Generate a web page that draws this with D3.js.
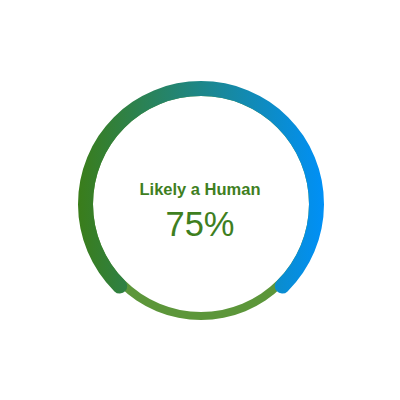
<!DOCTYPE html>
<html><head><meta charset="utf-8">
<script src="https://cdn.jsdelivr.net/npm/d3@7"></script>
<style>html,body{margin:0;padding:0;background:#fff;}svg{display:block;}</style>
</head><body>
<svg id="chart" width="400" height="400"></svg>
<script>
const label = "Likely a Human";
const value = [75];
const maxValue = [100];
const gradientColors = ["#3a7d1a", "#0090f7"];

const svg = d3.select("#chart");
const cx = 201, cy = 204;
const innerR = 108, outerR = 123, trackOuterR = 116;
const capPad = 4 * Math.PI / 180;

const defs = svg.append("defs");
const grad = defs.append("linearGradient").attr("id", "g")
  .attr("gradientUnits", "userSpaceOnUse")
  .attr("x1", -outerR).attr("y1", 0).attr("x2", outerR).attr("y2", 0);
grad.selectAll("stop").data(gradientColors).join("stop")
  .attr("offset", (d, i) => i / (gradientColors.length - 1))
  .attr("stop-color", d => d);

const g = svg.append("g").attr("transform", `translate(${cx},${cy})`);
const start = -0.75 * Math.PI;
const angle = d3.scaleLinear().domain([0, maxValue[0]]).range([start, start + 2 * Math.PI]);

g.append("path")
  .attr("d", d3.arc().innerRadius(innerR).outerRadius(trackOuterR).startAngle(0).endAngle(2 * Math.PI)())
  .attr("fill", "#5c963a");

g.append("path")
  .attr("d", d3.arc().innerRadius(innerR).outerRadius(outerR).cornerRadius(7.5)
    .startAngle(angle(0) - capPad).endAngle(angle(value[0]) + capPad)())
  .attr("fill", "url(#g)");

g.append("text").attr("x", -1).attr("y", -9)
  .attr("text-anchor", "middle")
  .attr("font-family", "Liberation Sans, Arial, sans-serif")
  .attr("font-weight", "bold").attr("font-size", 16.5)
  .attr("fill", "#3f7f1f").text(label);

g.append("text").attr("x", -1).attr("y", 32)
  .attr("text-anchor", "middle")
  .attr("font-family", "Liberation Sans, Arial, sans-serif")
  .attr("font-size", 34.5)
  .attr("fill", "#3f7f1f").text(value[0] + "%");
</script>
</body></html>
